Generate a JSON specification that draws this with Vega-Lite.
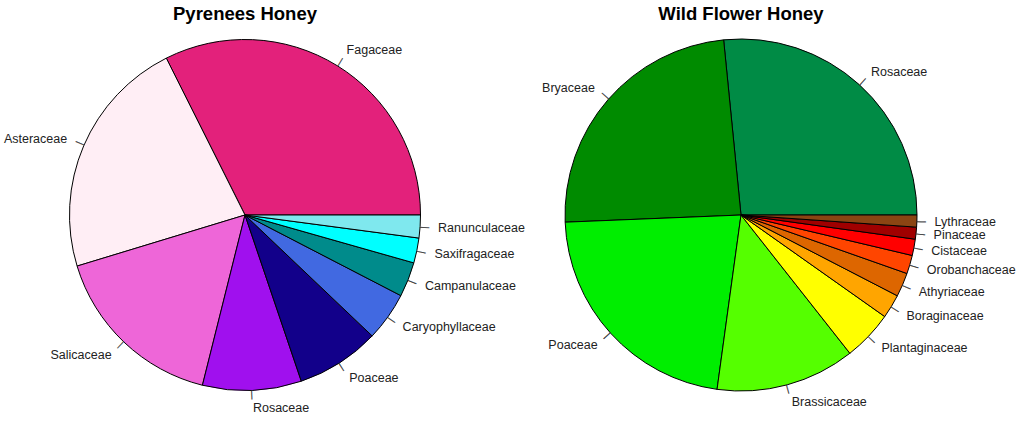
{
  "$schema": "https://vega.github.io/schema/vega-lite/v6.json",
  "padding": {"left": 0, "top": 4, "right": 0, "bottom": 0},
  "bounds": "flush",
  "spacing": 6,
  "config": {"view": {"stroke": null}},
  "resolve": {"scale": {"color": "independent", "theta": "independent"}},
  "datasets": {
    "pyr": [
      {"idx": 1, "family": "Fagaceae", "pct": 32.4},
      {"idx": 2, "family": "Asteraceae", "pct": 22.3},
      {"idx": 3, "family": "Salicaceae", "pct": 16.4},
      {"idx": 4, "family": "Rosaceae", "pct": 9.1},
      {"idx": 5, "family": "Poaceae", "pct": 7.7},
      {"idx": 6, "family": "Caryophyllaceae", "pct": 4.5},
      {"idx": 7, "family": "Campanulaceae", "pct": 3.2},
      {"idx": 8, "family": "Saxifragaceae", "pct": 2.3},
      {"idx": 9, "family": "Ranunculaceae", "pct": 2.1}
    ],
    "wild": [
      {"idx": 1, "family": "Rosaceae", "pct": 26.6},
      {"idx": 2, "family": "Bryaceae", "pct": 24.1},
      {"idx": 3, "family": "Poaceae", "pct": 22.2},
      {"idx": 4, "family": "Brassicaceae", "pct": 12.8},
      {"idx": 5, "family": "Plantaginaceae", "pct": 4.6},
      {"idx": 6, "family": "Boraginaceae", "pct": 2.2},
      {"idx": 7, "family": "Athyriaceae", "pct": 2.2},
      {"idx": 8, "family": "Orobanchaceae", "pct": 1.7},
      {"idx": 9, "family": "Cistaceae", "pct": 1.5},
      {"idx": 10, "family": "Pinaceae", "pct": 1.1},
      {"idx": 11, "family": "Lythraceae", "pct": 1.1}
    ]
  },
  "hconcat": [
    {
      "title": {"text": "Pyrenees Honey", "fontSize": 18.5, "font": "Liberation Sans", "fontWeight": "bold", "color": "#000", "frame": "group", "anchor": "middle", "offset": 2},
      "width": 490,
      "height": 380,
      "data": {"name": "pyr"},
      "encoding": {
        "theta": {"field": "pct", "type": "quantitative", "stack": "normalize", "scale": {"range": [1.5707963, -4.712389]}},
        "order": {"field": "idx", "type": "quantitative"},
        "detail": {"field": "family", "type": "nominal"}
      },
      "layer": [
        {
          "mark": {"type": "arc", "radius": 175.5, "stroke": "#000", "strokeWidth": 1},
          "encoding": {
            "color": {"field": "family", "type": "nominal", "legend": null,
              "scale": {
                "domain": ["Fagaceae", "Asteraceae", "Salicaceae", "Rosaceae", "Poaceae", "Caryophyllaceae", "Campanulaceae", "Saxifragaceae", "Ranunculaceae"],
                "range": ["#E3217B", "#FFEEF5", "#EE66D8", "#A010EE", "#12008A", "#4169E1", "#008B8B", "#00FFFF", "#7FE8EE"]
              }}
          }
        },
        {
          "mark": {"type": "text", "radius": 180, "text": "—", "fontSize": 9, "font": "Liberation Sans", "fill": "#333", "stroke": "#333", "strokeWidth": 0.3, "baseline": "middle", "align": "center",
            "angle": {"expr": "-180*(datum.pct_start+datum.pct_end)"}},
          "encoding": {}
        },
        {
          "mark": {"type": "text", "radius": 193.5, "fontSize": 12.5, "font": "Liberation Sans", "fill": "#222", "baseline": "middle",
            "align": {"expr": "cos(PI*(datum.pct_start+datum.pct_end)) > 0 ? 'left' : 'right'"}},
          "encoding": {"text": {"field": "family", "type": "nominal"}}
        }
      ]
    },
    {
      "title": {"text": "Wild Flower Honey", "fontSize": 18.5, "font": "Liberation Sans", "fontWeight": "bold", "color": "#000", "frame": "group", "anchor": "middle", "offset": 2},
      "width": 490,
      "height": 380,
      "data": {"name": "wild"},
      "encoding": {
        "theta": {"field": "pct", "type": "quantitative", "stack": "normalize", "scale": {"range": [1.5707963, -4.712389]}},
        "order": {"field": "idx", "type": "quantitative"},
        "detail": {"field": "family", "type": "nominal"}
      },
      "layer": [
        {
          "mark": {"type": "arc", "radius": 176, "stroke": "#000", "strokeWidth": 1},
          "encoding": {
            "color": {"field": "family", "type": "nominal", "legend": null,
              "scale": {
                "domain": ["Rosaceae", "Bryaceae", "Poaceae", "Brassicaceae", "Plantaginaceae", "Boraginaceae", "Athyriaceae", "Orobanchaceae", "Cistaceae", "Pinaceae", "Lythraceae"],
                "range": ["#008B45", "#008B00", "#00EE00", "#55FF00", "#FFFF00", "#FFA500", "#DD6600", "#FF4500", "#FF0000", "#A00000", "#8B4513"]
              }}
          }
        },
        {
          "mark": {"type": "text", "radius": 180.4, "text": "—", "fontSize": 9, "font": "Liberation Sans", "fill": "#333", "stroke": "#333", "strokeWidth": 0.3, "baseline": "middle", "align": "center",
            "angle": {"expr": "-180*(datum.pct_start+datum.pct_end)"}},
          "encoding": {}
        },
        {
          "mark": {"type": "text", "radius": 193.6, "fontSize": 12.5, "font": "Liberation Sans", "fill": "#222", "baseline": "middle",
            "align": {"expr": "cos(PI*(datum.pct_start+datum.pct_end)) > 0 ? 'left' : 'right'"}},
          "encoding": {"text": {"field": "family", "type": "nominal"}}
        }
      ]
    }
  ]
}
